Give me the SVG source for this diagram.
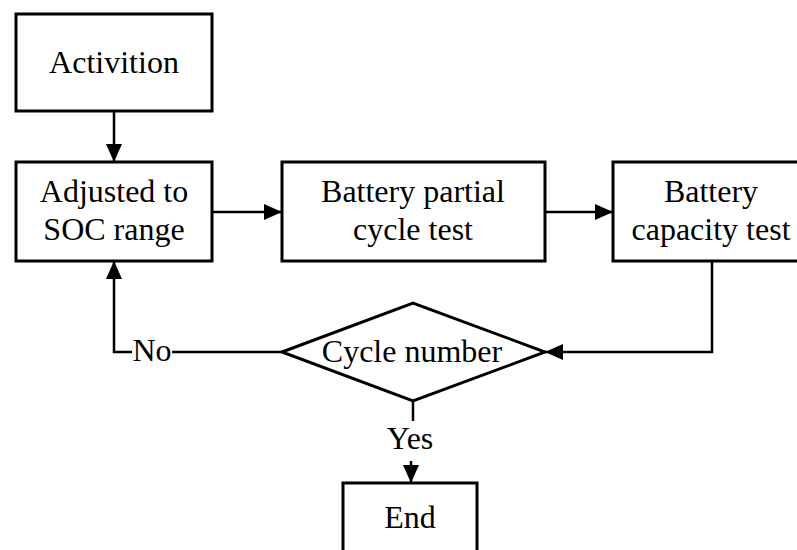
<svg xmlns="http://www.w3.org/2000/svg" width="797" height="550" viewBox="0 0 797 550">
  <style>
    .box { fill: #ffffff; stroke: #000000; stroke-width: 3; }
    .link { fill: none; stroke: #000000; stroke-width: 2.5; }
    .lbl { font-family: "Liberation Serif", "Times New Roman", serif; font-size: 32px; fill: #000000; text-anchor: middle; }
  </style>
  <defs>
    <marker id="arrow" markerUnits="userSpaceOnUse" markerWidth="18" markerHeight="16" refX="18" refY="8" orient="auto">
      <path d="M0,0 L18,8 L0,16 Z" fill="#000000"/>
    </marker>
  </defs>
  <rect width="797" height="550" fill="#ffffff"/>

  <g id="connectors">
    <line class="link" x1="114" y1="111" x2="114" y2="162" marker-end="url(#arrow)"/>
    <line class="link" x1="212" y1="212" x2="282" y2="212" marker-end="url(#arrow)"/>
    <line class="link" x1="545" y1="212" x2="613" y2="212" marker-end="url(#arrow)"/>
    <polyline class="link" points="712,261 712,352 545,352" marker-end="url(#arrow)"/>
    <line class="link" x1="282" y1="352" x2="172" y2="352"/>
    <polyline class="link" points="132,352 114,352 114,261" marker-end="url(#arrow)"/>
    <line class="link" x1="413" y1="401" x2="413" y2="421"/>
    <line class="link" x1="411" y1="461" x2="411" y2="483" marker-end="url(#arrow)"/>
    <text class="lbl" x="152" y="361">No</text>
    <text class="lbl" x="410" y="449">Yes</text>
  </g>

  <g id="activition">
    <rect class="box" x="16" y="14" width="196" height="97"/>
    <text class="lbl" x="114" y="73">Activition</text>
  </g>

  <g id="adjust-soc">
    <rect class="box" x="16" y="162" width="196" height="99"/>
    <text class="lbl" x="114" y="202">Adjusted to</text>
    <text class="lbl" x="114" y="240">SOC range</text>
  </g>

  <g id="partial-cycle">
    <rect class="box" x="282" y="162" width="263" height="99"/>
    <text class="lbl" x="413" y="202">Battery partial</text>
    <text class="lbl" x="413" y="240">cycle test</text>
  </g>

  <g id="capacity-test">
    <rect class="box" x="613" y="162" width="198" height="99"/>
    <text class="lbl" x="711" y="202">Battery</text>
    <text class="lbl" x="711" y="240">capacity test</text>
  </g>

  <g id="cycle-number">
    <polygon class="box" points="282,352 413,303 545,352 413,401"/>
    <text class="lbl" x="412" y="362">Cycle number</text>
  </g>

  <g id="end">
    <rect class="box" x="343" y="483" width="134" height="80"/>
    <text class="lbl" x="410" y="528">End</text>
  </g>
</svg>
